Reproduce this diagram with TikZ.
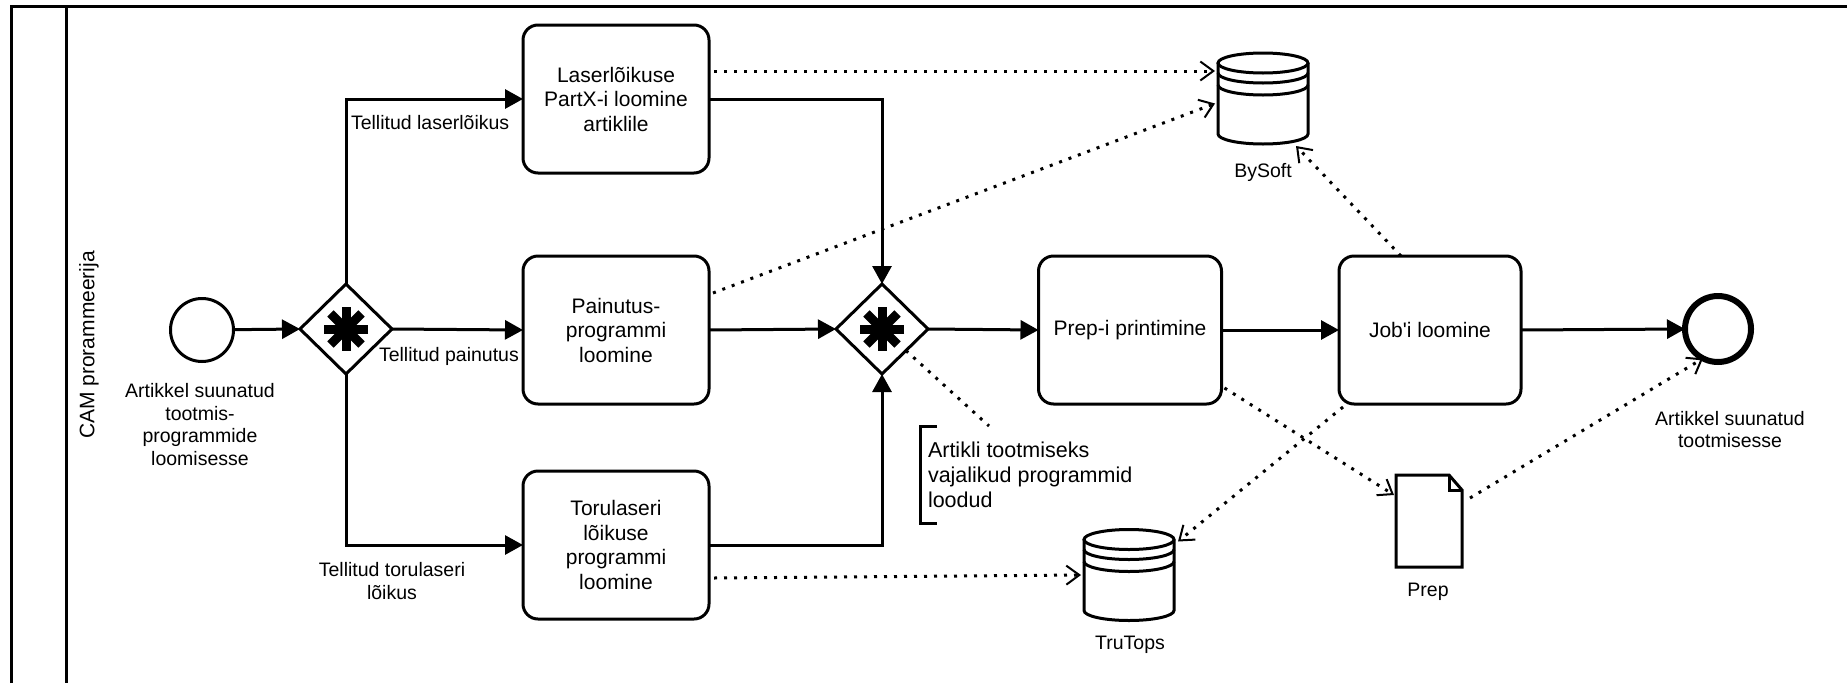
\documentclass[tikz,border=0pt]{standalone}
\usepackage{fontspec}
\setmainfont{Liberation Sans}
\usetikzlibrary{shapes.geometric, arrows.meta, calc}

% cylinder outline (data store) drawn inside a plain rectangular node
\newcommand\datastore[1]{%
  \draw[plain] ([yshift=-10pt]#1.north west) -- ([yshift=10pt]#1.south west)
     arc[start angle=180, end angle=360, x radius=45pt, y radius=10pt]
     -- ([yshift=-10pt]#1.north east);
  \draw[plain] ([yshift=-10pt]#1.north) ellipse[x radius=45pt, y radius=10pt];
  \draw[plain] ([yshift=-20pt]#1.north west)
     arc[start angle=180, end angle=360, x radius=45pt, y radius=10pt];
  \draw[plain] ([yshift=-32pt]#1.north west)
     arc[start angle=180, end angle=360, x radius=45pt, y radius=10pt];
}
% document with a folded corner
\newcommand\docshape[1]{%
  \draw[plain, line join=miter] (#1.north west) -- ([xshift=-13pt]#1.north east)
     -- ([yshift=-15pt]#1.north east) -- (#1.south east) -- (#1.south west) -- cycle;
  \draw[plain] ([xshift=-13pt]#1.north east) -- ([xshift=-13pt,yshift=-15pt]#1.north east)
     -- ([yshift=-15pt]#1.north east);
}
% complex gateway marker
\newcommand\complexmark[1]{%
  \foreach \a in {0,45,90,135}
    \draw[line width=9pt] ($(#1.center)+(\a:22pt)$) -- ($(#1.center)+(\a+180:22pt)$);
}

\begin{document}
\begin{tikzpicture}[x=1pt, y=-1pt,
  every node/.style={inner sep=0pt, outer sep=0pt},
  plain/.style={line width=3pt},
  flow/.style={line width=3pt, -{Triangle[length=18pt, width=19pt]}},
  assoc/.style={line width=3pt, dash pattern=on 3pt off 7pt},
  assocarrow/.style={assoc, -{Straight Barb[length=13pt, width=19pt, line width=2pt]}},
  task/.style={draw, line width=3pt, rounded corners=15pt, minimum width=186pt,
    minimum height=148pt, align=center, font=\fontsize{21}{24.5}\selectfont},
  gateway/.style={draw, diamond, line width=3pt, minimum width=92pt, minimum height=90pt},
  startev/.style={draw, circle, line width=3pt, minimum size=63pt},
  endev/.style={draw, circle, line width=6pt, minimum size=66pt},
  lbl/.style={align=center, font=\fontsize{19.5}{22.5}\selectfont},
  store/.style={minimum width=90pt, minimum height=91pt},
  docnode/.style={minimum width=66pt, minimum height=92pt},
  annot/.style={minimum height=97pt, inner xsep=8pt, align=left,
    font=\fontsize{21.5}{25}\selectfont},
]
\useasboundingbox (0,0) rectangle (1847,683);

% pool and lane
\draw[plain] (11,683) -- (11,6) -- (1847,6);
\draw[plain] (66,6) -- (66,683);
\node[rotate=90, font=\fontsize{21}{24}\selectfont] (lane) at (89,345) {CAM prorammeerija};

% events and gateways
\node[startev] (start) at (202,330) {};
\node[gateway] (gw1) at (346,329) {};
\node[gateway] (gw2) at (882,329) {};
\node[endev] (finish) at (1718,329) {};
\complexmark{gw1}
\complexmark{gw2}

% tasks
\node[task] (laser) at (616,99) {Laserlõikuse\\PartX-i loomine\\artiklile};
\node[task] (painutus) at (616,330) {Painutus-\\programmi\\loomine};
\node[task] (toru) at (616,545) {Torulaseri\\lõikuse\\programmi\\loomine};
\node[task, minimum width=183pt] (prep) at (1130,330) {Prep-i printimine};
\node[task, minimum width=182pt] (job) at (1430,330) {Job\textquotesingle i loomine};

% data stores and document
\node[store] (bysoft) at (1263,98.5) {};
\datastore{bysoft}
\node[store] (trutops) at (1129,575) {};
\datastore{trutops}
\node[docnode] (prepdoc) at (1429,521) {};
\docshape{prepdoc}

% annotation
\node[annot, anchor=north west] (note) at (920,426)
  {Artikli tootmiseks\\vajalikud programmid\\loodud};
\draw[plain] ([xshift=17pt]note.north west) -- (note.north west)
  -- (note.south west) -- ([xshift=17pt]note.south west);

% labels
\node[lbl] (lstart) at (200,424.5) {Artikkel suunatud\\tootmis-\\programmide\\loomisesse};
\node[lbl] (lend) at (1730,429.5) {Artikkel suunatud\\tootmisesse};
\node[lbl, anchor=west] (llaser) at (351,123) {Tellitud laserlõikus};
\node[lbl, anchor=west] (lpain) at (379,356) {Tellitud painutus};
\node[lbl] (ltoru) at (392,581) {Tellitud torulaseri\\lõikus};
\node[lbl] (lbysoft) at (1263,172) {BySoft};
\node[lbl] (ltrutops) at (1130,645) {TruTops};
\node[lbl] (lprep) at (1428,592) {Prep};

% sequence flows
\draw[flow] (start) -- (gw1.west);
\draw[flow] (gw1.north) |- (laser.west);
\draw[flow] (gw1.east) -- (painutus.west);
\draw[flow] (gw1.south) |- (toru.west);
\draw[flow] (laser.east) -| (gw2.north);
\draw[flow] (painutus.east) -- (gw2.west);
\draw[flow] (toru.east) -| (gw2.south);
\draw[flow] (gw2.east) -- (prep.west);
\draw[flow] (prep.east) -- (job.west);
\draw[flow] (job.east) -- (finish.west);

% data associations
\draw[assocarrow] ([xshift=5pt,yshift=28pt]laser.east) -- ([xshift=-3pt,yshift=28pt]laser.east -| bysoft.west);
\draw[assocarrow] ([xshift=4pt,yshift=37pt]painutus.east) -- ([xshift=-3pt,yshift=-5pt]bysoft.west);
\draw[assocarrow] ([xshift=-29pt]job.north) -- ([xshift=33pt,yshift=-2pt]bysoft.south);
\draw[assocarrow] ([xshift=5pt,yshift=-33pt]toru.east) -- ([xshift=-3pt]trutops.west);
\draw[assocarrow] ([xshift=3pt,yshift=-58pt]prep.east) -- ([xshift=-2pt,yshift=26pt]prepdoc.west);
\draw[assocarrow] ([xshift=4pt,yshift=-3pt]job.south west) -- ([xshift=4pt,yshift=-12pt]trutops.north east);
\draw[assocarrow] ([xshift=8pt,yshift=23pt]prepdoc.east) -- (finish.243);
\draw[assoc] (gw2.-42) -- ([xshift=69pt]note.north west);
\end{tikzpicture}
\end{document}
